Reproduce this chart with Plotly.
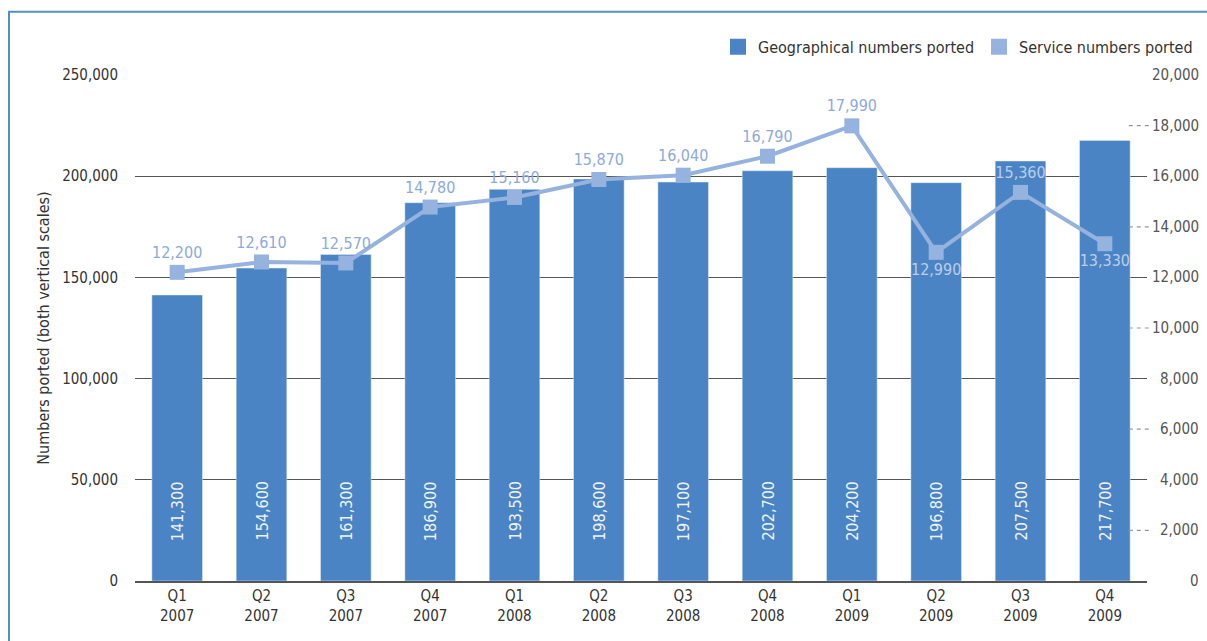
import plotly.graph_objects as go

# Quarterly number porting volumes
quarters = ["Q1<br>2007", "Q2<br>2007", "Q3<br>2007", "Q4<br>2007",
            "Q1<br>2008", "Q2<br>2008", "Q3<br>2008", "Q4<br>2008",
            "Q1<br>2009", "Q2<br>2009", "Q3<br>2009", "Q4<br>2009"]
geographical = [141300, 154600, 161300, 186900, 193500, 198600,
                197100, 202700, 204200, 196800, 207500, 217700]
service = [12200, 12610, 12570, 14780, 15160, 15870,
           16040, 16790, 17990, 12990, 15360, 13330]

left_ticks = [0, 50000, 100000, 150000, 200000, 250000]
right_ticks = [0, 2000, 4000, 6000, 8000, 10000, 12000,
               14000, 16000, 18000, 20000]

FONT = "DejaVu Sans Condensed, Liberation Sans Narrow, sans-serif"
BAR = "#4a84c4"
LINE = "#95b3de"
LINE_TXT = "#8eaadb"
LINE_TXT_ON_BAR = "#bccdeb"

# label placement for the service series (below the point where it dips)
below_idx = {9, 11}
on_bar_idx = {9, 10, 11}
positions = ["bottom center" if i in below_idx else "top center"
             for i in range(len(service))]
colors = [LINE_TXT_ON_BAR if i in on_bar_idx else LINE_TXT
          for i in range(len(service))]

fig = go.Figure()

fig.add_trace(go.Bar(
    x=quarters, y=geographical, marker_color=BAR, width=0.6,
    showlegend=False, hoverinfo="x+y",
))

fig.add_trace(go.Scatter(
    x=quarters, y=service, yaxis="y2", mode="lines+markers+text",
    line=dict(color=LINE, width=4),
    marker=dict(symbol="square", size=15, color=LINE),
    text=[f"{v:,}" for v in service], textposition=positions,
    textfont=dict(family=FONT, size=16, color=colors),
    showlegend=False, cliponaxis=False,
))

# legend entries
fig.add_trace(go.Scatter(
    x=[None], y=[None], mode="markers", name="Geographical numbers ported",
    marker=dict(symbol="square", size=16, color=BAR),
))
fig.add_trace(go.Scatter(
    x=[None], y=[None], mode="markers", name="Service numbers ported",
    marker=dict(symbol="square", size=16, color=LINE),
))

annotations = []
# bar value labels, rotated, near the base of each bar
for q, v in zip(quarters, geographical):
    annotations.append(dict(
        x=q, y=0, xref="x", yref="y", text=f"{v:,}", showarrow=False,
        textangle=-90, yanchor="bottom", yshift=38,
        font=dict(family=FONT, size=16, color="#eef3fa"),
    ))
# right-hand scale labels, right aligned
for t in right_ticks:
    annotations.append(dict(
        x=1.0534, y=t, xref="paper", yref="y2", text=f"{t:,}",
        showarrow=False, xanchor="right", yanchor="middle",
        font=dict(family=FONT, size=15, color="#555555"),
    ))

shapes = []
# dashed minor marks on the right-hand scale
for t in right_ticks:
    if t % 4000 != 0:
        shapes.append(dict(
            type="line", xref="paper", yref="y2", x0=0.982, x1=1.005, y0=t, y1=t,
            line=dict(color="#9a9a9a", width=1.2, dash="4px,4px"),
        ))
# frame
shapes.append(dict(type="line", xref="paper", yref="paper",
                   x0=-0.1245, x1=-0.1245, y0=1.125, y1=-0.2,
                   line=dict(color="#4f8fca", width=2)))
shapes.append(dict(type="line", xref="paper", yref="paper",
                   x0=-0.1255, x1=1.1, y0=1.125, y1=1.125,
                   line=dict(color="#4f8fca", width=2)))

fig.update_layout(
    width=1207, height=641,
    margin=dict(l=135, r=60, t=75, b=60, autoexpand=False),
    paper_bgcolor="white", plot_bgcolor="white",
    font=dict(family=FONT, size=15, color="#333333"),
    xaxis=dict(
        showgrid=False, showline=True, linecolor="#555555", linewidth=2,
        ticks="", tickfont=dict(family=FONT, size=15, color="#333333"),
        range=[-0.5, 11.5],
    ),
    yaxis=dict(
        range=[0, 250000], tickvals=left_ticks,
        ticktext=[f"{t:,}" for t in left_ticks],
        showgrid=True, gridcolor="#555555", gridwidth=1.3,
        zeroline=False, showline=False, ticks="", ticklabelstandoff=16,
        tickfont=dict(family=FONT, size=15, color="#333333"),
        title=dict(text="Numbers ported (both vertical scales)", standoff=8,
                   font=dict(family=FONT, size=16, color="#333333")),
    ),
    yaxis2=dict(
        range=[0, 20000], overlaying="y", side="right",
        showgrid=False, zeroline=False, showline=False, showticklabels=False,
        ticks="",
    ),
    legend=dict(
        orientation="h", x=1.0504, xanchor="right", y=1.022, yanchor="bottom",
        font=dict(family=FONT, size=16, color="#333333"),
        bgcolor="rgba(0,0,0,0)", traceorder="normal",
    ),
    annotations=annotations,
    shapes=shapes,
)

fig.write_html("out.html")
